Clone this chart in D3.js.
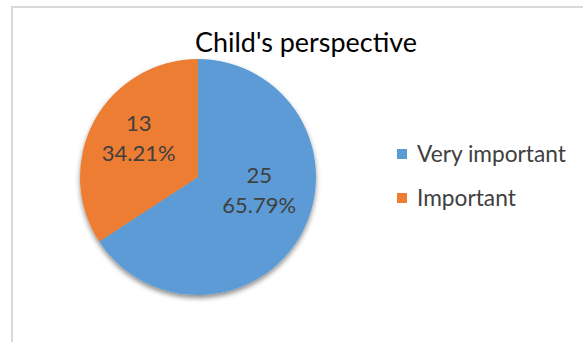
<!DOCTYPE html>
<html><head><meta charset="utf-8">
<script src="https://cdn.jsdelivr.net/npm/d3@7"></script>
<style>html,body{margin:0;padding:0;background:#fff;}svg{display:block;}</style>
</head><body>
<script>
const title = "Child's perspective";
const categories = ["Very important", "Important"];
const values = [25, 13];
const percentLabels = ["65.79%", "34.21%"];
const colors = ["#5b9bd5", "#ed7d31"];

const W = 583, H = 342;
const svg = d3.select("body").append("svg").attr("width", W).attr("height", H);
const FONT = "Lato, 'Open Sans', sans-serif";

function fit(sel, target) {
  const node = sel.node();
  let fs = parseFloat(sel.attr("font-size"));
  const w = node.getComputedTextLength();
  const nf = w > 0 ? fs * target / w : fs;
  sel.attr("font-size", nf.toFixed(2));
  return nf;
}

// chart frame
svg.append("rect").attr("x", 12).attr("y", 7).attr("width", 620).attr("height", 420)
  .attr("fill", "#fff").attr("stroke", "#d9d9d9").attr("stroke-width", 2);

// shadow filter
const defs = svg.append("defs");
const f = defs.append("filter").attr("id", "sh").attr("x", "-20%").attr("y", "-20%").attr("width", "140%").attr("height", "140%");
f.append("feDropShadow").attr("dx", 0).attr("dy", 3).attr("stdDeviation", 2.5)
  .attr("flood-color", "#000").attr("flood-opacity", 0.45);

// title
const t = svg.append("text").attr("x", 306).attr("y", 52).attr("text-anchor", "middle")
  .attr("font-family", FONT).attr("font-size", 26).attr("fill", "#000").text(title);
fit(t, 222);

const cx = 198, cy = 177, R = 118;
const pie = d3.pie().sort(null).value(d => d)(values);
const arc = d3.arc().innerRadius(0).outerRadius(R);
const g = svg.append("g").attr("transform", `translate(${cx},${cy})`);
g.append("g").attr("filter", "url(#sh)").selectAll("path").data(pie).join("path")
  .attr("d", arc).attr("fill", (d, i) => colors[i]);

// data labels
const labelArc = d3.arc().innerRadius(R * 0.6).outerRadius(R * 0.6);
const nudge = [[-1, -22], [3, -7]];
pie.forEach((d, i) => {
  const [x, y] = labelArc.centroid(d);
  const tx = g.append("text").attr("x", x + nudge[i][0]).attr("y", y + nudge[i][1])
    .attr("text-anchor", "middle").attr("font-family", FONT).attr("font-size", 22).attr("fill", "#404040");
  tx.append("tspan").attr("x", x + nudge[i][0]).attr("dy", "-0.25em").text(values[i]);
  tx.append("tspan").attr("x", x + nudge[i][0]).attr("dy", "1.35em").text(percentLabels[i]);
});

// legend
const leg = svg.append("g");
let legFs = null;
categories.forEach((c, i) => {
  const y = 154 + i * 44;
  leg.append("rect").attr("x", 397).attr("y", y - 5).attr("width", 10).attr("height", 10).attr("fill", colors[i]);
  const lt = leg.append("text").attr("x", 417).attr("y", y).attr("dy", "0.35em")
    .attr("font-family", FONT).attr("font-size", legFs || 20).attr("fill", "#404040").text(c);
  if (i === 0) legFs = fit(lt, 149).toFixed(2);
});
</script>
</body></html>
